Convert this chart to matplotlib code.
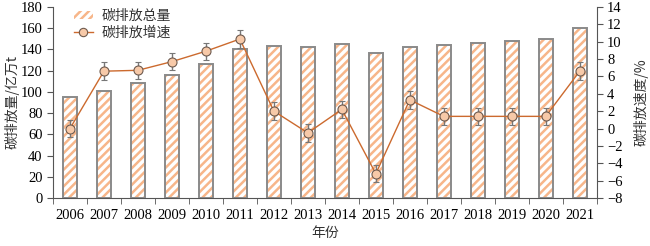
import matplotlib.pyplot as plt
import matplotlib.patches as mpatches
from matplotlib.lines import Line2D
import numpy as np

plt.rcParams['font.family'] = ['Liberation Serif', 'Noto Sans CJK SC']
plt.rcParams['hatch.linewidth'] = 1.8
plt.rcParams['axes.unicode_minus'] = True

# data
years = ['2006', '2007', '2008', '2009', '2010', '2011', '2012', '2013',
         '2014', '2015', '2016', '2017', '2018', '2019', '2020', '2021']
emission = [95, 101, 108, 116, 126, 140, 143, 142, 145, 137, 142, 144, 146, 148, 150, 160]
growth = [0.0, 6.6, 6.7, 7.7, 8.9, 10.3, 2.0, -0.5, 2.2, -5.2, 3.3, 1.4, 1.4, 1.4, 1.4, 6.6]
growth_err = [1.0, 1.0, 1.0, 1.0, 1.0, 1.0, 1.0, 1.0, 1.0, 1.0, 1.0, 1.0, 1.0, 1.0, 1.0, 1.0]

hatch_col = '#f7b68a'
edge_col = '#8a8a8a'
line_col = '#cc6a2e'
marker_face = '#f7c9a8'

cjk = ['Noto Sans CJK SC']

fig = plt.figure(figsize=(6.5, 2.46), dpi=100)
ax = fig.add_axes([0.0815, 0.195, 0.8365, 0.777])
x = np.arange(len(years))
w = 0.42

ax.bar(x, emission, w, color='white', edgecolor=hatch_col, hatch='////', linewidth=0, zorder=2)
ax.bar(x, emission, w, color='none', edgecolor=edge_col, linewidth=1.4, zorder=3)

ax.set_xlim(-0.5, len(years) - 0.5)
ax.set_ylim(0, 180)
ax.set_yticks(range(0, 181, 20))
ax.set_xticks(x)
ax.set_xticklabels(years)
ax.set_xticks(np.arange(-0.5, len(years), 1), minor=True)
ax.tick_params(axis='x', which='major', length=0, pad=8, labelsize=10.5)
ax.tick_params(axis='x', which='minor', length=4, direction='out', color='#555555')
ax.tick_params(axis='y', length=4, direction='out', labelsize=10.5, color='#555555')
ax.spines['top'].set_visible(False)
ax.spines['right'].set_visible(False)
for s in ['left', 'bottom']:
    ax.spines[s].set_color('#555555')
ax.set_ylabel('碳排放量/亿万t', fontsize=10, family=cjk, color='#333333', labelpad=1)
ax.set_xlabel('年份', fontsize=10, family=cjk, color='#333333', labelpad=3)

ax2 = ax.twinx()
ax2.set_ylim(-8, 14)
ax2.set_yticks(range(-8, 15, 2))
ax2.errorbar(x, growth, yerr=growth_err, color=line_col, lw=1.0,
             marker='o', ms=6.5, mfc=marker_face, mec='#6e5a4e', mew=0.8,
             ecolor='#777777', elinewidth=1.0, capsize=2.5, capthick=1.0, zorder=4)
ax2.tick_params(axis='y', length=4, direction='out', labelsize=10.5, color='#555555')
for s in ['top', 'left', 'bottom']:
    ax2.spines[s].set_visible(False)
ax2.spines['right'].set_color('#555555')
ax2.set_ylabel('碳排放速度/%', fontsize=10, family=cjk, color='#333333', labelpad=8)

handles = [mpatches.Patch(facecolor='white', edgecolor=hatch_col, hatch='////', linewidth=0),
           Line2D([], [], color=line_col, lw=1.0, marker='o', ms=6, mfc=marker_face, mec='#6e5a4e', mew=0.8)]
leg = ax.legend(handles, ['碳排放总量', '碳排放增速'], loc='upper left',
                bbox_to_anchor=(0.015, 1.055), frameon=False,
                prop={'family': cjk, 'size': 10}, handlelength=1.4,
                handleheight=0.6, handletextpad=0.6, labelspacing=0.2)
for t in leg.get_texts():
    t.set_color('#333333')

fig.savefig('out.png', dpi=100)
